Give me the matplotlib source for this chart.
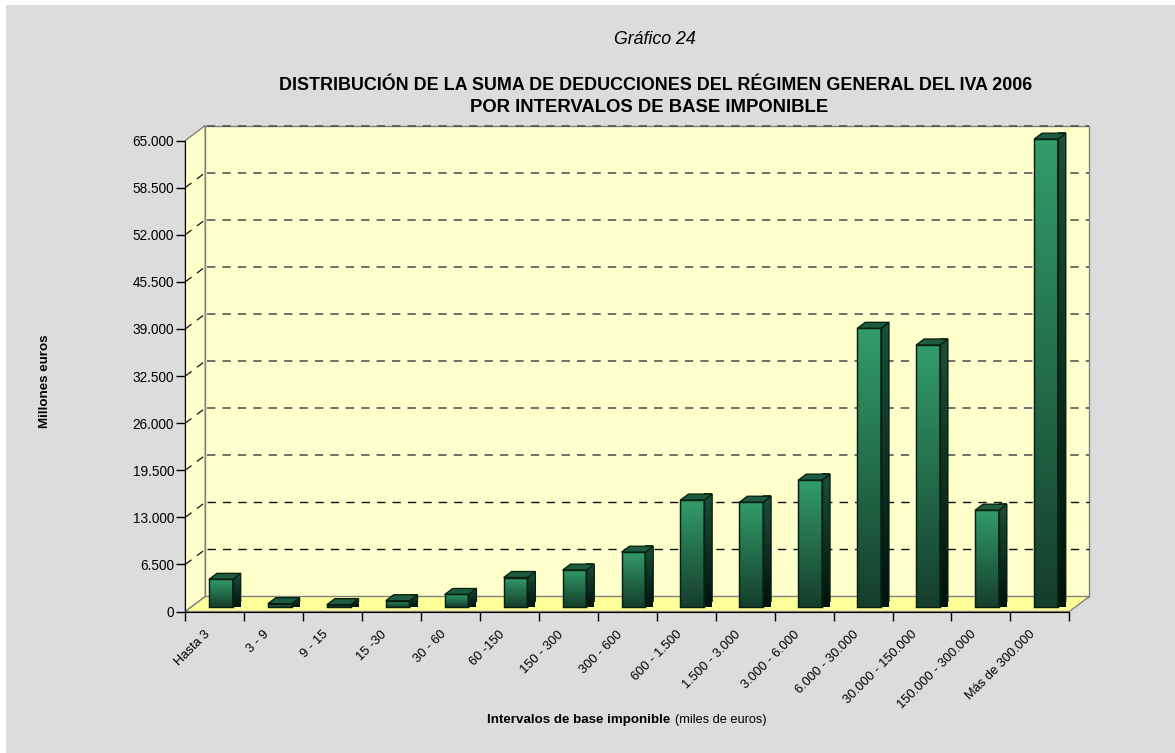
import numpy as np
import matplotlib
matplotlib.use("Agg")
import matplotlib.pyplot as plt
from matplotlib.patches import Polygon, Rectangle
from matplotlib.ticker import FixedLocator, FuncFormatter

categories = ["Hasta 3", "3 - 9", "9 - 15", "15 -30", "30 - 60", "60 -150", "150 - 300",
              "300 - 600", "600 - 1.500", "1.500 - 3.000", "3.000 - 6.000", "6.000 - 30.000",
              "30.000 - 150.000", "150.000 - 300.000", "Más de 300.000"]
values = [3860, 500, 360, 910, 1770, 4110, 5130, 7600, 14800, 14500, 17550, 38500, 36200, 13400, 64600]
yticks = [0, 6500, 13000, 19500, 26000, 32500, 39000, 45500, 52000, 58500, 65000]

plt.rcParams['font.family'] = ['Liberation Sans', 'DejaVu Sans']
W, H = 1175, 753
fig = plt.figure(figsize=(W/100, H/100), dpi=100, facecolor='white')
fig.add_artist(Rectangle((6/W, 0), 1-6/W, 1-5/H, transform=fig.transFigure, fc='#DCDCDC', ec='none', zorder=-5))

L, R, T, B = 185.3, 1069.3, 140.5, 611.5
ax = fig.add_axes([L/W, 1-B/H, (R-L)/W, (B-T)/H])
ax.patch.set_alpha(0)
n = len(categories)
ax.set_xlim(0, n)
ax.set_ylim(0, 65000)
px = n/(R-L)        # data per pixel, x
py = 65000/(B-T)    # data per pixel, y
DX, DY = 20*px, 15.0*py

def poly(pts, **kw):
    ax.add_patch(Polygon(pts, closed=True, clip_on=False, **kw))

# walls and floor
poly([(0, 0), (DX, DY), (DX, 65000+DY), (0, 65000)], fc='#FFFFCC', ec='#808080', lw=1, zorder=1)
poly([(DX, DY), (n+DX, DY), (n+DX, 65000+DY), (DX, 65000+DY)], fc='#FFFFCC', ec='#808080', lw=1, zorder=1)
poly([(0, 0), (n, 0), (n+DX, DY), (DX, DY)], fc='#FFFF99', ec='#808080', lw=1, zorder=1)

# gridlines on walls
for v in yticks[1:]:
    wall_col = '#111111' if v <= 13000 else '#505050'
    wall_lw = 1.0 if v <= 13000 else 1.15
    if v < 65000:
        ax.plot([0, DX], [v, v+DY], color='#111111', lw=0.9, dashes=(6.2, 5.4), zorder=2, clip_on=False)
    ax.plot([DX + 1.5*px, n+DX], [v+DY, v+DY], color=wall_col, lw=wall_lw,
            dashes=(6.0/wall_lw, 5.1/wall_lw), zorder=2, clip_on=False)

# bars
def gradient(x0, x1, y0, y1, top, bot, z):
    g = np.linspace(0, 1, 64)[:, None, None]
    arr = (1-g)*np.array(top)[None, None, :] + g*np.array(bot)[None, None, :]
    return ax.imshow(arr/255, extent=(x0, x1, y0, y1), aspect='auto', origin='upper', zorder=z,
                     interpolation='bilinear', clip_on=False)

bw = 23.7*px
off_x, off_y = 23.7*px, 4.2*py
dbx, dby = 8*px, 6*py
edge = '#08200F'
for i, v in enumerate(values):
    x0 = i + off_x
    x1 = x0 + bw
    y0 = off_y
    y1 = off_y + v
    z = 3 + i*0.01
    # front
    gradient(x0, x1, y0, y1, (50, 156, 106), (21, 62, 44), z)
    ax.add_patch(Rectangle((x0, y0), bw, v, fc='none', ec=edge, lw=1.05, zorder=z+0.003, clip_on=False))
    # side
    im = gradient(x1, x1+dbx, y0, y1+dby, (27, 80, 58), (0, 18, 14), z)
    side = Polygon([(x1, y0), (x1+dbx, y0+dby), (x1+dbx, y1+dby), (x1, y1)], closed=True, fc='none',
                   ec=edge, lw=0.95, zorder=z+0.002, clip_on=False, transform=ax.transData)
    ax.add_patch(side)
    im.set_clip_path(side)
    # top
    poly([(x0, y1), (x1, y1), (x1+dbx, y1+dby), (x0+dbx, y1+dby)], fc='#1E5C42', ec=edge, lw=0.95, zorder=z+0.002)
ax.set_xlim(0, n)
ax.set_ylim(0, 65000)

# axes
for s in ('top', 'right'):
    ax.spines[s].set_visible(False)
for s in ('left', 'bottom'):
    ax.spines[s].set_color('k')
    ax.spines[s].set_zorder(5)
ax.yaxis.set_major_locator(FixedLocator(yticks))
ax.yaxis.set_major_formatter(FuncFormatter(lambda v, p: f"{int(v):,}".replace(",", ".")))
ax.set_xticks(range(n+1))
ax.set_xticklabels([])
ax.tick_params(axis='y', length=6.5, width=1, labelsize=9.8, pad=1.5, colors='k')
ax.tick_params(axis='x', length=6.5, width=1, direction='out')
for i, c in enumerate(categories):
    ax.annotate(c, xy=(i+0.5, 0), xytext=(-10.5, -17), textcoords='offset pixels', rotation=45, ha='right', va='top',
                rotation_mode='anchor', fontsize=9.3, annotation_clip=False)

# texts
fig.text(654.5/W, 1-39/H, "Gráfico 24", ha='center', va='center', fontsize=12.8, style='italic')
fig.text(655.5/W, 1-86/H, "DISTRIBUCIÓN DE LA SUMA DE DEDUCCIONES DEL RÉGIMEN GENERAL DEL IVA 2006", ha='center', va='center', fontsize=12.9, weight='bold')
fig.text(649.5/W, 1-108/H, "POR INTERVALOS DE BASE IMPONIBLE", ha='center', va='center', fontsize=13.3, weight='bold')
fig.text(45/W, 1-381/H, "Millones euros", rotation=90, ha='center', va='center', fontsize=9.6, weight='bold')
fig.text(487/W, 1-720/H, "Intervalos de base imponible", ha='left', va='center', fontsize=9.6, weight='bold')
fig.text(675/W, 1-720/H, "(miles de euros)", ha='left', va='center', fontsize=9.2)

fig.savefig("out.png", dpi=100, facecolor=fig.get_facecolor())
